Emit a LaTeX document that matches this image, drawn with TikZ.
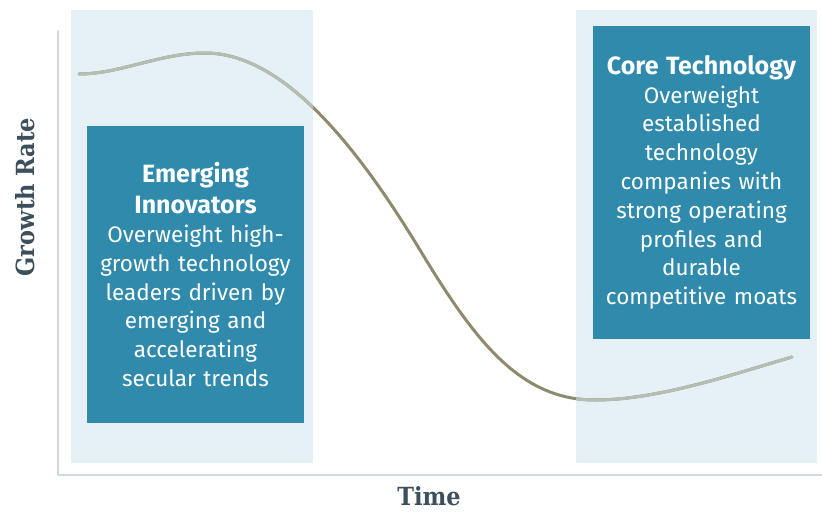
\documentclass[tikz,border=0pt]{standalone}
\usepackage{fontspec}
\setmainfont{Fira Sans}
\newfontfamily\axisfont{DejaVu Serif Condensed}
\definecolor{panelblue}{HTML}{E6F1F7}
\definecolor{boxblue}{HTML}{2F8AAB}
\definecolor{curveolive}{HTML}{8E8A6D}
\definecolor{curvegray}{HTML}{B6BDB2}
\definecolor{axisline}{HTML}{CFDAE1}
\definecolor{labelslate}{HTML}{3D4E5C}
\def\growthpath{(79,74) .. controls (120,74) and (160,53) .. (205,53) .. controls (285,53) and (360,151) .. (420,250) .. controls (475,341) and (520,400) .. (595,400) .. controls (660,400) and (740,372) .. (792,357)}
\newcommand\boxtitle{\fontsize{25}{31}\selectfont\bfseries}
\begin{document}
\begin{tikzpicture}[x=1pt, y=-1pt, line join=round, line cap=round,
	infobox/.style={fill=boxblue, text=white, align=center, inner sep=0pt, text width=214pt, font=\fontsize{22.5}{28.8}\selectfont},
	axislabel/.style={text=labelslate, inner sep=0pt, font=\axisfont\bfseries\fontsize{25}{28}\selectfont}]
		\useasboundingbox (0,0) rectangle (822,514);
		\fill[panelblue](71,10)rectangle(313,463);
		\fill[panelblue](576,10)rectangle(817,463);
		\coordinate (ytop) at (58,31);
		\coordinate (origin) at (58,475);
		\coordinate (xend) at (822,475);
		\draw[axisline, line width=2pt](ytop)--(origin)--(xend);
		\draw[curveolive, line width=3pt] \growthpath;
		\begin{scope}
			\clip (71,10)rectangle(313,463) (576,10)rectangle(817,463);
			\draw[curvegray, line width=3pt] \growthpath;
		\end{scope}
		\node[infobox, minimum width=217pt, minimum height=297pt] (innovators) at (195.5,274.5) {{\boxtitle Emerging\\Innovators\par}Overweight high-\\growth technology\\leaders driven by\\emerging and\\accelerating\\secular trends};
		\node[infobox, minimum width=217pt, minimum height=313pt] (coretech) at (701.5,182.5) {{\boxtitle Core Technology\par}Overweight\\established\\technology\\companies with\\strong operating\\profiles and\\durable\\competitive moats};
		\node[axislabel, rotate=90] (ylabel) at (25,197) {Growth Rate};
		\node[axislabel, anchor=base] (xlabel) at (429,505) {Time};
	\end{tikzpicture}
\end{document}
